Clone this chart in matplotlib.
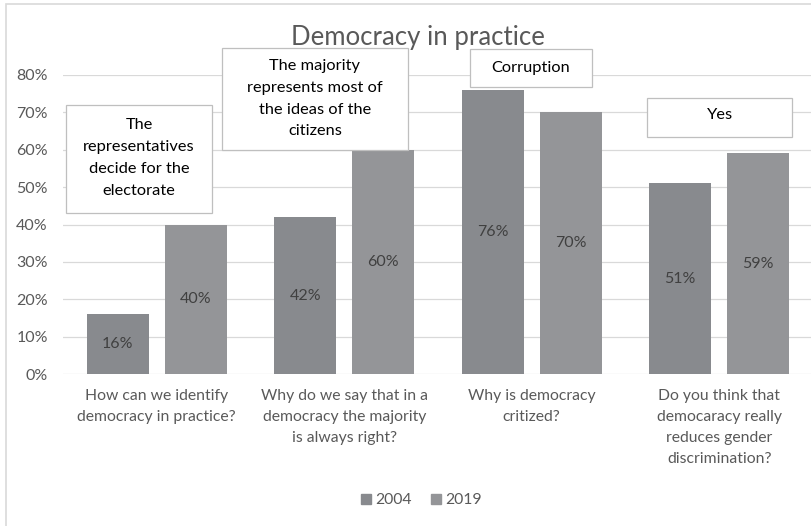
import numpy as np
import matplotlib.pyplot as plt
from matplotlib.patches import Rectangle
from matplotlib.lines import Line2D

plt.rcParams['font.family'] = ['Lato', 'DejaVu Sans']

questions = ['How can we identify\ndemocracy in practice?',
             'Why do we say that in a\ndemocracy the majority\nis always right?',
             'Why is democracy\ncritized?',
             'Do you think that\ndemocaracy really\nreduces gender\ndiscrimination?']
answers = ['The\nrepresentatives\ndecide for the\nelectorate',
           'The majority\nrepresents most of\nthe ideas of the\ncitizens',
           'Corruption',
           'Yes']
years = ['2004', '2019']
share_2004 = [0.16, 0.42, 0.76, 0.51]
share_2019 = [0.40, 0.60, 0.70, 0.59]

colors = ['#888a8e', '#949598']
text_grey = '#595959'

W, H = 812, 526
fig = plt.figure(figsize=(W / 100, H / 100), dpi=100)
ax = fig.add_axes([63 / W, 152 / H, 750 / W, 299 / H])

x = np.arange(len(questions))
bw = 0.33
off = 0.208
for i, (vals, c) in enumerate(zip([share_2004, share_2019], colors)):
    pos = x - off if i == 0 else x + off
    bars = ax.bar(pos, vals, bw, color=c, label=years[i], zorder=3)
    for b, v in zip(bars, vals):
        ax.text(b.get_x() + b.get_width() / 2, v / 2, f'{v:.0%}',
                ha='center', va='center', fontsize=11.5, color='#404040', zorder=4)

ax.set_xlim(-0.5, 3.5)
ax.set_ylim(0, 0.8)
ax.set_yticks(np.arange(0, 0.81, 0.1))
ax.set_yticklabels([f'{t:.0%}' for t in np.arange(0, 0.81, 0.1)])
ax.grid(axis='y', color='#d9d9d9', lw=0.9, zorder=0)
for s in ax.spines.values():
    s.set_visible(False)
ax.tick_params(axis='y', length=0, pad=11, labelsize=11.5, labelcolor=text_grey)
ax.set_xticks(x)
ax.set_xticklabels(questions, fontsize=11.3, color=text_grey, linespacing=1.62, va='top')
ax.tick_params(axis='x', length=0, pad=11)

# answer boxes above each group
boxes = [(-0.484, 0.431, 0.779, 0.289, 0.578),
         (0.348, 0.599, 0.992, 0.273, 0.737),
         (1.671, 0.768, 0.650, 0.102, 0.819),
         (2.615, 0.634, 0.773, 0.104, 0.693)]
for (bx, by, bwid, bh, ty), txt in zip(boxes, answers):
    ax.add_patch(Rectangle((bx, by), bwid, bh, facecolor='white', edgecolor='#bfbfbf',
                           lw=0.9, zorder=5, clip_on=False))
    ax.text(bx + bwid / 2, ty, txt, ha='center', va='center', fontsize=11.8,
            color='black', linespacing=1.72, zorder=6, clip_on=False)

fig.text(418 / W, 1 - 38 / H, 'Democracy in practice', ha='center', va='center',
         fontsize=18.5, color=text_grey)

handles = [Line2D([], [], marker='s', ls='', color=c, markersize=7) for c in colors]
fig.legend(handles, years, loc='center', bbox_to_anchor=(420 / W, 1 - 500 / H), ncol=2,
           frameon=False, fontsize=11.3, labelcolor=text_grey, handletextpad=0.1,
           columnspacing=1.0, handlelength=1.0)

# chart frame
fig.add_artist(Rectangle((6 / W, -0.1), 1.0, 1 - 3.5 / H + 0.1, transform=fig.transFigure,
                         facecolor='none', edgecolor='#d9d9d9', lw=1.2))

fig.savefig('out.png', dpi=100)
